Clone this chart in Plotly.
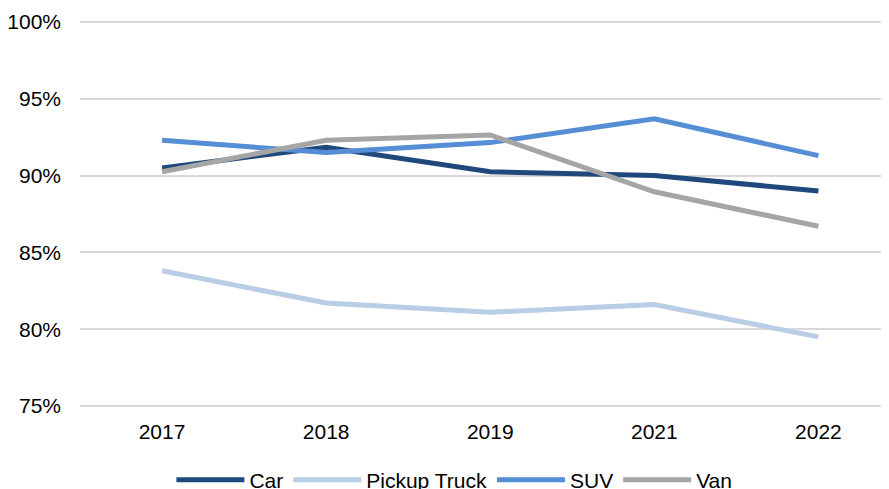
import plotly.graph_objects as go

years = ["2017", "2018", "2019", "2021", "2022"]
car = [90.5, 91.85, 90.25, 90.0, 89.0]
pickup = [83.8, 81.7, 81.1, 81.6, 79.5]
suv = [92.3, 91.5, 92.15, 93.7, 91.3]
van = [90.25, 92.3, 92.65, 88.95, 86.7]

series = [
    ("Car", car, "#1F497D"),
    ("Pickup Truck", pickup, "#B9CDE5"),
    ("SUV", suv, "#558ED5"),
    ("Van", van, "#A5A5A5"),
]

fig = go.Figure()
for name, vals, color in series:
    fig.add_trace(go.Scatter(x=years, y=vals, name=name, mode="lines",
                             line=dict(color=color, width=5)))

font = "Liberation Sans, Arial, sans-serif"
fig.update_layout(
    width=881, height=481,
    margin=dict(l=72, r=0, t=13, b=82, autoexpand=False),
    paper_bgcolor="white", plot_bgcolor="white",
    font=dict(family=font, size=21, color="#000000"),
    showlegend=True,
    legend=dict(orientation="h", x=0.113, xanchor="left",
                yref="container", y=0.0187, yanchor="middle",
                itemwidth=68, font=dict(size=21), traceorder="normal"),
    xaxis=dict(type="category", range=[-0.5, 4.43], showgrid=False, showline=False,
               ticks="", ticklabelstandoff=10, automargin=False,
               tickfont=dict(size=21)),
    yaxis=dict(range=[74.93, 100.07], dtick=5, ticksuffix="%", showgrid=True,
               gridcolor="#D9D9D9", gridwidth=1.5, zeroline=False, showline=False,
               ticks="", ticklabelstandoff=18, automargin=False,
               tickfont=dict(size=21)),
)

fig.write_html("out.html")
